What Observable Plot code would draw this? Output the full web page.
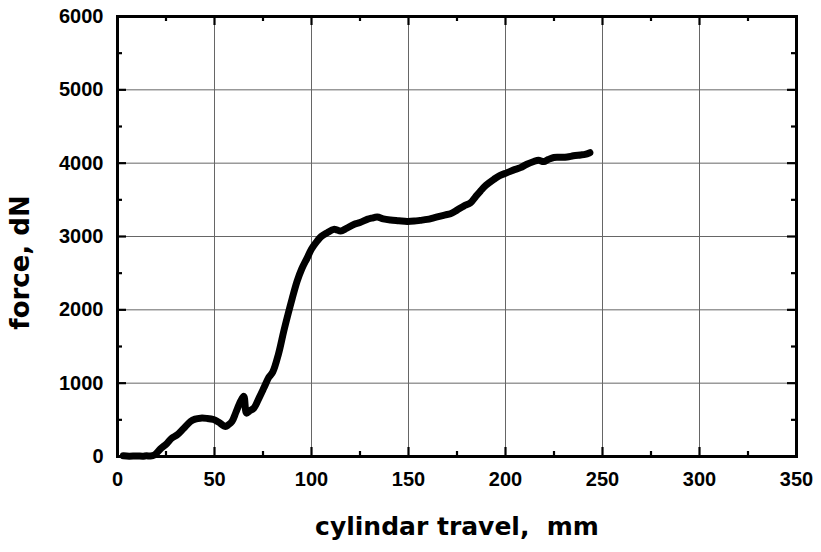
<!DOCTYPE html>
<html>
<head>
<meta charset="utf-8">
<script src="https://cdn.jsdelivr.net/npm/d3@7"></script>
<script src="https://cdn.jsdelivr.net/npm/@observablehq/plot@0.6"></script>
<style>
  html, body { margin: 0; padding: 0; background: #fff; }
  svg { font-family: "Liberation Sans", Arial, sans-serif; }
</style>
</head>
<body>
<div id="chart"></div>
<script>
const travel = [3, 6, 10, 13, 15, 17, 19, 22, 25.6, 28, 30.8, 34, 37.6, 40, 42.8, 46, 49.5, 52, 55.7, 57, 59, 61, 63.4, 65.1, 66.5, 68, 70.3, 73, 75.4, 78, 80, 83, 85.7, 88, 90, 92.6, 95, 97.8, 100, 102.9, 105, 108.1, 111.5, 113, 115, 118, 121.8, 125, 128.7, 131, 133.9, 137, 140.7, 145, 149.3, 153, 156, 159.6, 163, 166.5, 169, 171.6, 175, 178.5, 182, 184.5, 187.1, 190, 194, 197, 200.9, 204, 207.7, 211, 214.6, 217, 219.7, 222, 224.9, 228, 231.8, 235, 238.7, 241, 243.5];
const force = [10, 5, 8, 4, 10, 6, 20, 100, 182, 250, 296, 380, 478, 510, 523, 520, 505, 470, 410, 430, 478, 600, 751, 820, 592, 620, 660, 800, 933, 1080, 1150, 1400, 1708, 1950, 2150, 2391, 2560, 2709, 2830, 2937, 3000, 3051, 3097, 3090, 3074, 3110, 3165, 3190, 3233, 3250, 3265, 3240, 3225, 3215, 3205, 3210, 3220, 3233, 3255, 3279, 3295, 3311, 3360, 3415, 3461, 3540, 3620, 3700, 3780, 3830, 3871, 3905, 3939, 3985, 4022, 4040, 4022, 4050, 4077, 4080, 4085, 4100, 4112, 4120, 4143];

const xMajor = [0, 50, 100, 150, 200, 250, 300, 350];
const xMinor = [25, 75, 125, 175, 225, 275, 325];
const yMajor = [0, 1000, 2000, 3000, 4000, 5000, 6000];
const yMinor = [500, 1500, 2500, 3500, 4500, 5500];
const xTitle = "cylindar travel,\u00a0 mm";
const yTitle = "force, dN";

const data = travel.map((t, i) => ({travel: t, force: force[i]}));

const W = 821, H = 552, mL = 117, mR = 25, mT = 16, mB = 96;
const iw = W - mL - mR, ih = H - mT - mB;

const chart = Plot.plot({
  width: W, height: H,
  marginLeft: mL, marginRight: mR, marginTop: mT, marginBottom: mB,
  style: {fontFamily: "'Liberation Sans', Arial, sans-serif", background: "#fff", overflow: "visible"},
  x: {domain: [0, 350]},
  y: {domain: [0, 6000]},
  marks: [
    Plot.gridX(xMajor, {stroke: "#666", strokeOpacity: 1, strokeWidth: 1}),
    Plot.gridY(yMajor, {stroke: "#666", strokeOpacity: 1, strokeWidth: 1}),
    Plot.ruleX(xMajor, {x: d => d, insetTop: ih - 9, stroke: "#000", strokeWidth: 2.2}),
    Plot.ruleX(xMajor, {x: d => d, insetBottom: ih - 9, stroke: "#000", strokeWidth: 2.2}),
    Plot.ruleX(xMinor, {x: d => d, insetTop: ih - 5, stroke: "#000", strokeWidth: 2.2}),
    Plot.ruleX(xMinor, {x: d => d, insetBottom: ih - 5, stroke: "#000", strokeWidth: 2.2}),
    Plot.ruleY(yMajor, {y: d => d, insetRight: iw - 9, stroke: "#000", strokeWidth: 2.2}),
    Plot.ruleY(yMajor, {y: d => d, insetLeft: iw - 9, stroke: "#000", strokeWidth: 2.2}),
    Plot.ruleY(yMinor, {y: d => d, insetRight: iw - 5, stroke: "#000", strokeWidth: 2.2}),
    Plot.ruleY(yMinor, {y: d => d, insetLeft: iw - 5, stroke: "#000", strokeWidth: 2.2}),
    Plot.axisX(xMajor, {tickSize: 0, tickPadding: 15, fontSize: 20, fontWeight: "bold", fill: "#000", label: null, tickFormat: d => String(d)}),
    Plot.axisY(yMajor, {tickSize: 0, tickPadding: 14, fontSize: 20, fontWeight: "bold", fill: "#000", label: null, tickFormat: d => String(d)}),
    Plot.frame({stroke: "#000", strokeWidth: 3}),
    Plot.line(data, {x: "travel", y: "force", stroke: "#000", strokeWidth: 7, strokeLinejoin: "round", strokeLinecap: "round", curve: "catmull-rom"}),
    Plot.text([xTitle], {frameAnchor: "bottom", dx: 0, dy: 78, fontSize: 25, fontWeight: "bold", fontFamily: "'DejaVu Sans', sans-serif", fill: "#000"}),
    Plot.text([yTitle], {frameAnchor: "left", textAnchor: "middle", dx: -97, dy: 26, rotate: -90, fontSize: 26, fontWeight: "bold", fontFamily: "'DejaVu Sans', sans-serif", fill: "#000"})
  ]
});
document.getElementById("chart").appendChild(chart);
</script>
</body>
</html>
